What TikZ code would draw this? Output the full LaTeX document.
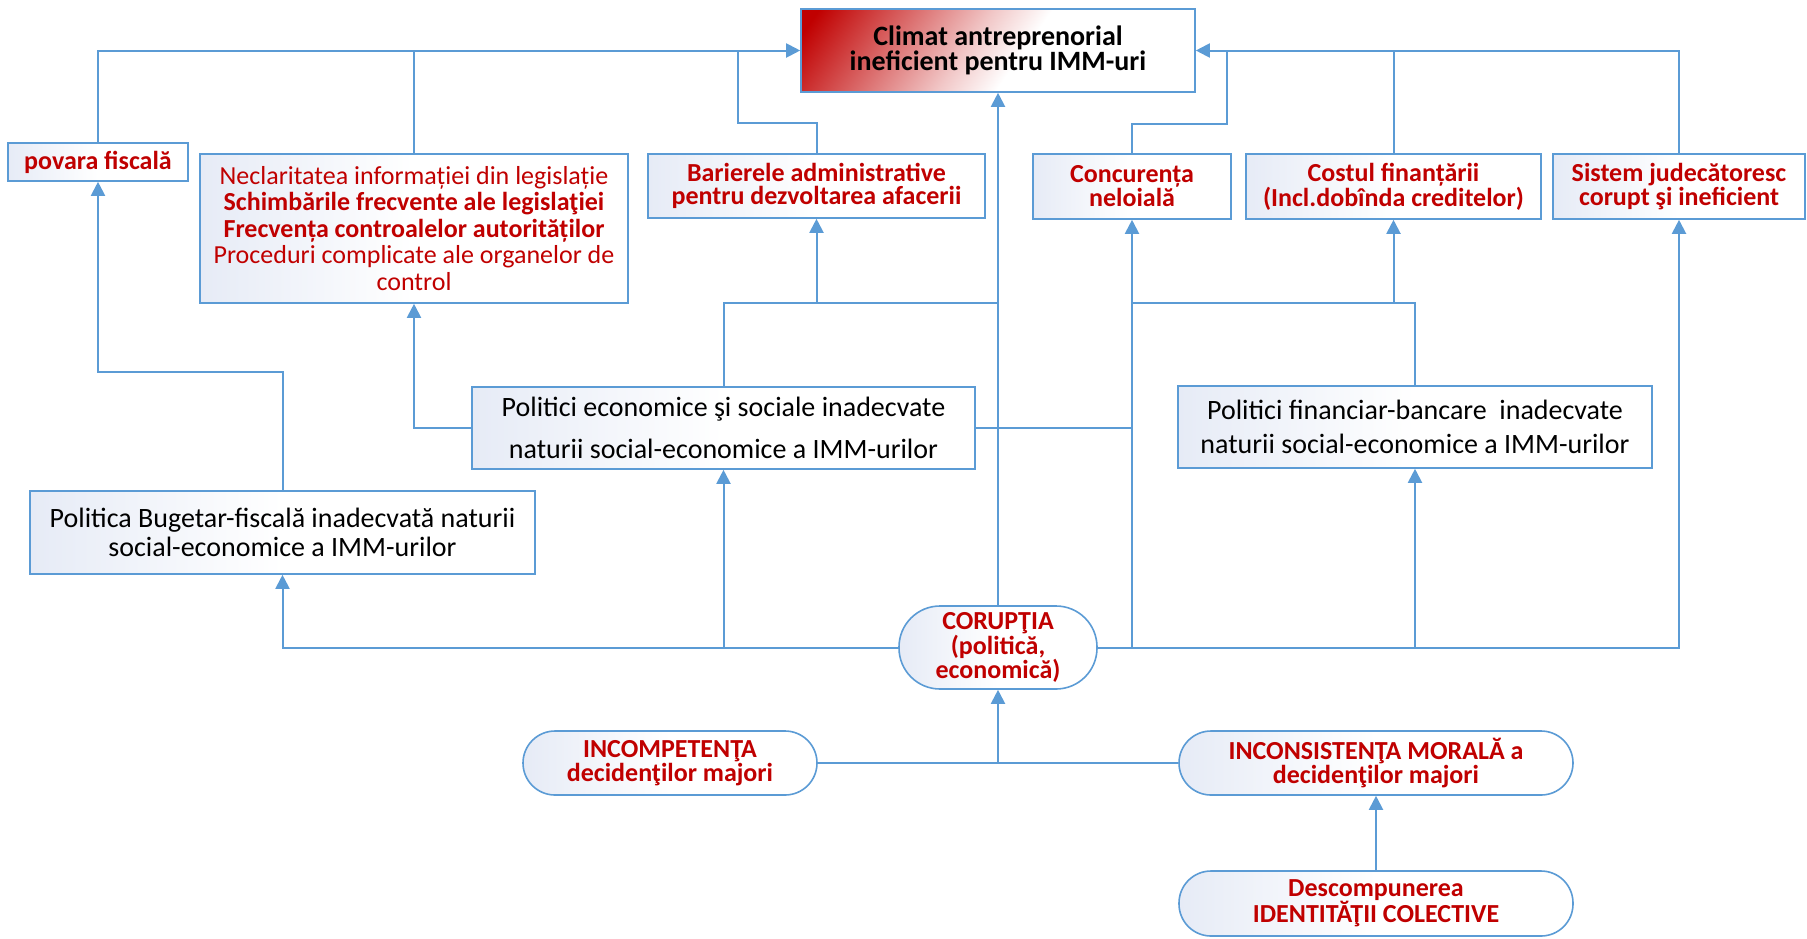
\documentclass[tikz,border=0pt]{standalone}
\usepackage{fontspec}
\setmainfont{Carlito}
\usetikzlibrary{arrows.meta,calc}
\definecolor{lblue}{HTML}{5B9BD5}
\definecolor{cred}{HTML}{C00000}
\definecolor{boxl}{HTML}{E6EBF6}
\colorlet{cpink}{cred!60!white}
\colorlet{cpale}{cred!22!white}
\pgfdeclarehorizontalshading{boxshade}{100bp}{color(0bp)=(boxl); color(25bp)=(boxl); color(50bp)=(white); color(100bp)=(white)}
\pgfdeclarehorizontalshading{climatshade}{100bp}{color(0bp)=(cred); color(18bp)=(cred); color(32bp)=(cpink); color(45bp)=(cpale); color(54bp)=(white); color(100bp)=(white)}
\tikzset{
  box/.style={rectangle, draw=lblue, line width=1.6pt, shade, shading=boxshade, align=center, inner sep=0pt},
  redbold/.style={text=cred, font=\fontsize{26}{22.5}\selectfont\bfseries},
  blacktxt/.style={text=black, font=\fontsize{28}{29}\selectfont},
  link/.style={draw=lblue, line width=2pt},
  arr/.style={link, -{Triangle[length=14pt,width=14pt]}},
}
\begin{document}
\begin{tikzpicture}[x=1pt,y=-1pt]
\useasboundingbox (0,0) rectangle (1807,938);
% top
\node[box, shading=climatshade, shading angle=-35, minimum width=394pt, minimum height=83pt,
      text=black, font=\fontsize{28}{24}\selectfont\bfseries] (climat) at (998,50.5)
      {Climat antreprenorial\\ineficient pentru IMM-uri};
% row 1
\node[box, redbold, minimum width=180pt, minimum height=38pt] (povara) at (98,162) {povara fiscală};
\node[box, text=cred, font=\fontsize{26}{26.5}\selectfont, minimum width=428pt, minimum height=149pt] (necl) at (414,228.5)
  {Neclaritatea informației din legislație\\
   \textbf{Schimbările frecvente ale legislaţiei}\\
   \textbf{Frecvența controalelor autorităților}\\
   Proceduri complicate ale organelor de\\
   control};
\node[box, redbold, minimum width=337pt, minimum height=64pt] (bar) at (816.5,186) {Barierele administrative\\pentru dezvoltarea afacerii};
\node[box, redbold, minimum width=198pt, minimum height=65pt] (conc) at (1132,186.5) {Concurența\\neloială};
\node[box, redbold, minimum width=295pt, minimum height=65pt] (cost) at (1393.5,186.5) {Costul finanțării\\(Incl.dobînda creditelor)};
\node[box, redbold, minimum width=252pt, minimum height=65pt] (sist) at (1679,186.5) {Sistem judecătoresc\\corupt şi ineficient};
% row 2
\node[box, text=black, font=\fontsize{28}{42}\selectfont, minimum width=503pt, minimum height=82pt] (pecon) at (723.5,428)
  {Politici economice şi sociale inadecvate\\naturii social-economice a IMM-urilor};
\node[box, text=black, font=\fontsize{28}{34}\selectfont, minimum width=474pt, minimum height=82pt] (pfin) at (1415,427)
  {Politici financiar-bancare\ \ inadecvate\\naturii social-economice a IMM-urilor};
\node[box, blacktxt, minimum width=505pt, minimum height=83pt] (pbug) at (282.5,532.5)
  {Politica Bugetar-fiscală inadecvată naturii\\social-economice a IMM-urilor};
% pills
\node[box, redbold, rounded corners=41pt, minimum width=198pt, minimum height=83pt] (cor) at (998,647.5)
  {CORUPŢIA\\(politică,\\economică)};
\node[box, redbold, rounded corners=32pt, minimum width=294pt, minimum height=64pt] (incomp) at (670,763)
  {INCOMPETENŢA\\decidenţilor majori};
\node[box, redbold, rounded corners=32pt, minimum width=394pt, minimum height=64pt] (incons) at (1376,763)
  {INCONSISTENŢA MORALĂ a\\decidenţilor majori};
\node[box, redbold, rounded corners=32pt, minimum width=394pt, minimum height=65pt] (desc) at (1376,903.5)
  {Descompunerea\\IDENTITĂŢII COLECTIVE};
% helper coordinates
\coordinate (b1) at (738,123);
\coordinate (c1) at (1227,124);
\coordinate (pb1) at (98,372);
\coordinate (e1) at (998,303);
% top connectors
\draw[arr] (povara.north) |- (climat.west);
\draw[link] (necl.north) -- (necl.north |- climat.west);
\draw[link] (bar.north) |- (b1) -- (b1 |- climat.west);
\draw[arr] (sist.north) |- (climat.east);
\draw[link] (cost.north) -- (cost.north |- climat.east);
\draw[link] (conc.north) |- (c1) -- (c1 |- climat.east);
\draw[arr] (cor.north) -- (climat.south);
% middle connectors
\draw[arr] (pbug.north) |- (pb1) -- (povara.south);
\draw[arr] (pecon.west) -| (necl.south);
\draw[link] (pecon.north) |- (e1);
\draw[arr] (bar.south |- e1) -- (bar.south);
\draw[link] (pecon.east) -- (pecon.east -| conc.south);
\draw[link] (pfin.north) |- (conc.south |- e1);
\draw[arr] (cost.south |- e1) -- (cost.south);
\draw[arr] (conc.south |- cor.east) -- (conc.south);
% bottom connectors
\draw[arr] (cor.west) -| (pbug.south);
\draw[arr] (pecon.south |- cor.west) -- (pecon.south);
\draw[arr] (cor.east) -| (sist.south);
\draw[arr] (pfin.south |- cor.east) -- (pfin.south);
\draw[link] (incomp.east) -- (incons.west);
\draw[arr] (cor.south |- incomp.east) -- (cor.south);
\draw[arr] (desc.north) -- (incons.south);
\end{tikzpicture}
\end{document}
